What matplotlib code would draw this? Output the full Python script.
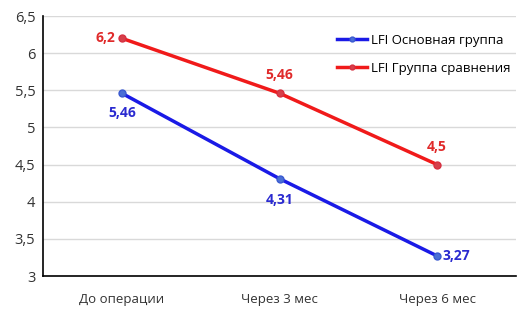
import matplotlib
matplotlib.use("Agg")
import matplotlib.pyplot as plt

categories = ["До операции", "Через 3 мес", "Через 6 мес"]
main_group = [5.46, 4.31, 3.27]
compare_group = [6.2, 5.46, 4.5]
yticks = [3, 3.5, 4, 4.5, 5, 5.5, 6, 6.5]

plt.rcParams['font.family'] = ['Open Sans', 'DejaVu Sans']

W, H = 531, 319
fig = plt.figure(figsize=(W/100, H/100), dpi=100)
ax = fig.add_axes([43/W, 1-276/H, (516-43)/W, (276-16)/H])

x = list(range(len(categories)))
blue = '#1a1ae6'
red = '#f01a1a'
ax.plot(x, main_group, color=blue, lw=2.5, marker='o', ms=5,
        mfc='#4a6fd6', mec='#3a5ad0', label='LFI Основная группа', zorder=3)
ax.plot(x, compare_group, color=red, lw=2.5, marker='o', ms=5,
        mfc='#d6404a', mec='#d63040', label='LFI Группа сравнения', zorder=3)

def fmt(v):
    return f"{v:g}".replace('.', ',')

lab_kw = dict(textcoords='offset points', va='center', fontweight='bold', fontsize=10)
bc = '#2a2ad0'
rc = '#e02a2a'
ax.annotate(fmt(main_group[0]), (x[0], main_group[0]), xytext=(0, -14.5), ha='center', color=bc, **lab_kw)
ax.annotate(fmt(main_group[1]), (x[1], main_group[1]), xytext=(0, -15), ha='center', color=bc, **lab_kw)
ax.annotate(fmt(main_group[2]), (x[2], main_group[2]), xytext=(4, 0), ha='left', color=bc, **lab_kw)
ax.annotate(fmt(compare_group[0]), (x[0], compare_group[0]), xytext=(-5, 0), ha='right', color=rc, **lab_kw)
ax.annotate(fmt(compare_group[1]), (x[1], compare_group[1]), xytext=(0, 13), ha='center', color=rc, **lab_kw)
ax.annotate(fmt(compare_group[2]), (x[2], compare_group[2]), xytext=(0, 13), ha='center', color=rc, **lab_kw)

ax.set_xlim(-0.5, 2.5)
ax.set_ylim(3, 6.5)
ax.set_yticks(yticks)
ax.set_yticklabels([fmt(v) for v in yticks], fontsize=10.5, color='#333333')
ax.set_xticks(x)
ax.set_xticklabels(categories, fontsize=9.5, color='#333333')
ax.tick_params(axis='both', length=0)
ax.tick_params(axis='y', pad=5.5)
ax.tick_params(axis='x', pad=12)
ax.grid(axis='y', color='#d9d9d9', lw=1)
ax.set_axisbelow(True)
for s in ['top', 'right']:
    ax.spines[s].set_visible(False)
for s in ['left', 'bottom']:
    ax.spines[s].set_color('black')
    ax.spines[s].set_linewidth(1.2)

ax.legend(loc='upper left', bbox_to_anchor=((337-43)/473, (276-34)/260), frameon=False,
          fontsize=9.5, borderpad=0, borderaxespad=0,
          handlelength=2.3, handletextpad=0.25, labelspacing=1.1, markerscale=0.7)

fig.savefig('out.png', dpi=100)
